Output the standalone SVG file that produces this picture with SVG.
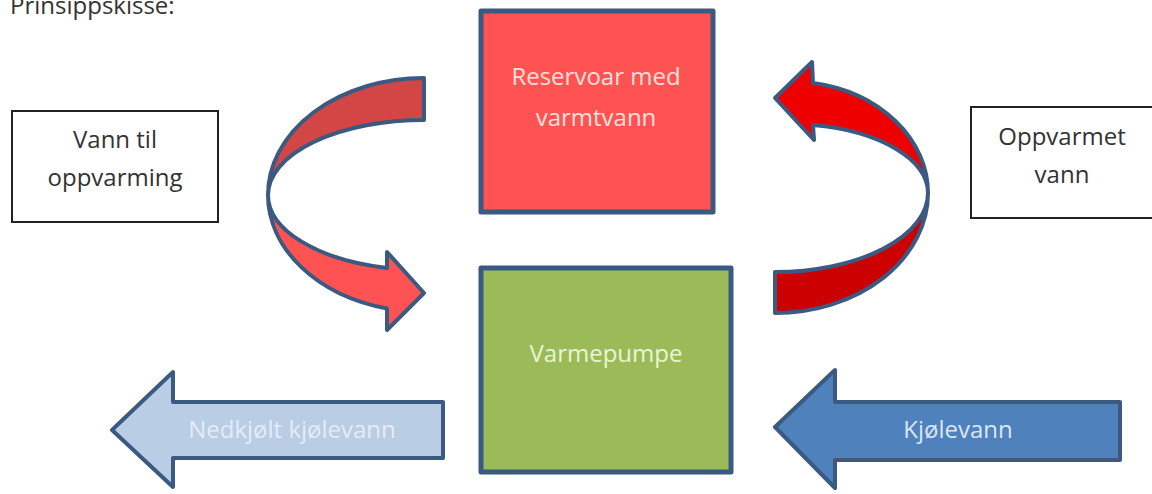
<svg xmlns="http://www.w3.org/2000/svg" width="1152" height="494" viewBox="0 0 1152 494">
<style>
text{font-family:"Open Sans","Noto Sans","Liberation Sans",sans-serif;font-size:24px;}
.lbl{fill:#333333;text-anchor:middle;}
.box{fill:#ffffff;stroke:#222222;stroke-width:2;}
.node{stroke:#3b5a82;stroke-width:5;stroke-linejoin:round;}
.arr{stroke:#3b5a82;stroke-width:4;stroke-linejoin:round;}
.light{text-anchor:middle;}
</style>
<rect width="1152" height="494" fill="#ffffff"/>
<text x="10" y="14" fill="#333333">Prinsippskisse:</text>

<g id="vann-til-oppvarming">
<rect class="box" x="12" y="111" width="206" height="111"/>
<text class="lbl" x="115" y="148">Vann til</text>
<text class="lbl" x="115" y="186">oppvarming</text>
</g>

<g id="oppvarmet-vann">
<rect class="box" x="971" y="107" width="200" height="111"/>
<text class="lbl" x="1062" y="145">Oppvarmet</text>
<text class="lbl" x="1062" y="183">vann</text>
</g>

<g id="reservoar">
<rect class="node" x="481" y="11" width="232" height="201" fill="#ff5353"/>
<text class="light" x="596" y="85" fill="#fbe0dc">Reservoar med</text>
<text class="light" x="596" y="126" fill="#fbe0dc">varmtvann</text>
</g>

<g id="varmepumpe">
<rect class="node" x="481" y="268" width="250" height="204" fill="#9bbb59"/>
<text class="light" x="606" y="362" fill="#eaf5d0">Varmepumpe</text>
</g>

<g id="connectors">
<g id="arc-left">
<path class="arr" fill="#d24646" d="M424,78 A156,117 0 0 0 268,195 A156,75 0 0 1 424,120 Z"/>
<path class="arr" fill="#ff5353" d="M268,195 A156,117 0 0 0 387,308.5 L387,330 L424,293 L387,252 L387,268 A156,75 0 0 1 268,195 Z"/>
</g>
<g id="arc-right">
<path class="arr" fill="#cc0000" d="M928,193 A153,120 0 0 1 775,313 L775,272 A153,79 0 0 0 928,193 Z"/>
<path class="arr" fill="#ee0000" d="M928,193 A138,111.6 0 0 0 813,83 L812,62 L775,98 L814,140 L813,125 A138,69 0 0 1 928,193 Z"/>
</g>
<g id="nedkjolt">
<path class="arr" fill="#b9cde5" d="M443,402 L173,402 L173,372 L112,430 L173,487 L173,458 L443,458 Z"/>
<text class="light" x="292" y="438" fill="#e4ecf6">Nedkjølt kjølevann</text>
</g>
<g id="kjolevann">
<path class="arr" fill="#4f81bd" d="M1120,402 L835,402 L835,370 L775,427 L835,488 L835,460 L1120,460 Z"/>
<text class="light" x="958" y="438" fill="#dce6f2">Kjølevann</text>
</g>
</g>
</svg>
